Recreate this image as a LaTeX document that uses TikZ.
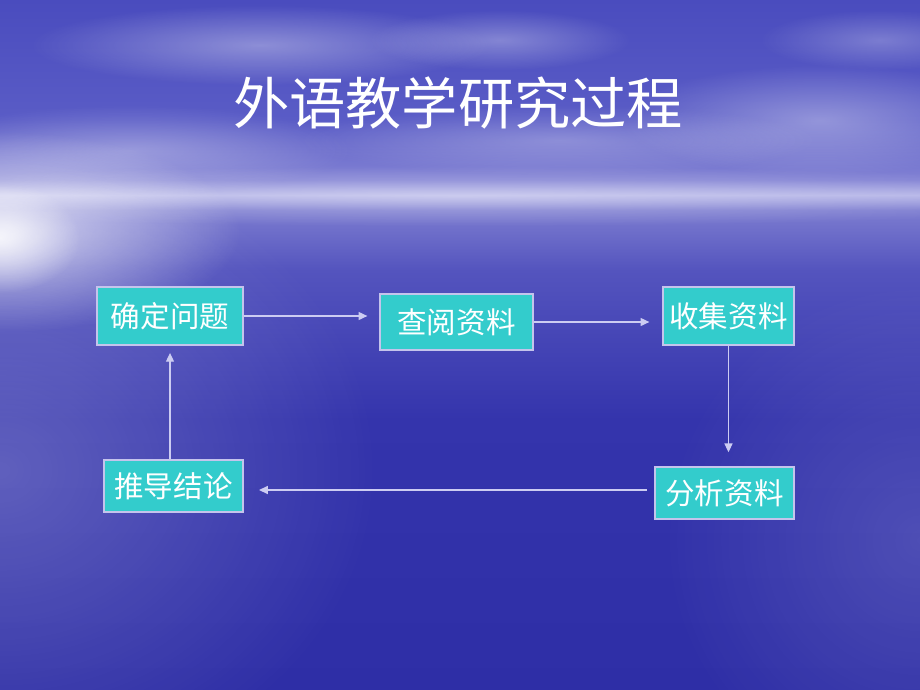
\documentclass[tikz,border=0pt]{standalone}
\usepackage{fontspec}
\newfontfamily\cjk{Noto Sans CJK SC}
\usetikzlibrary{arrows.meta,fadings}
\definecolor{boxfill}{HTML}{33CCCC}
\definecolor{boxline}{HTML}{C4C4EC}
\definecolor{flowline}{HTML}{CCCCF2}
\tikzfading[name=softglow,inner color=transparent!0,outer color=transparent!100]

\begin{document}
\begin{tikzpicture}[x=0.025cm,y=-0.025cm,
  stage/.style={draw=boxline,line width=1pt,fill=boxfill,text=white,
    font=\cjk\fontsize{21}{25}\selectfont,minimum height=1.45cm,inner sep=0pt},
  flow/.style={draw=flowline,line width=0.9pt,-{Triangle[length=2.2mm,width=2mm]}},
  glow/.style={white,path fading=softglow}]
\useasboundingbox (0,0) rectangle (920,690);
% sky and sea
\shade [top color={rgb,255:red,74;green,76;blue,190},bottom color={rgb,255:red,90;green,92;blue,198}] (0,0) rectangle (920,120);
\shade [top color={rgb,255:red,90;green,92;blue,198},bottom color={rgb,255:red,130;green,130;blue,212}] (0,120) rectangle (920,180);
\shade [top color={rgb,255:red,130;green,130;blue,212},bottom color={rgb,255:red,176;green,176;blue,230}] (0,180) rectangle (920,195);
\shade [top color={rgb,255:red,176;green,176;blue,230},bottom color={rgb,255:red,124;green,124;blue,208}] (0,195) rectangle (920,210);
\shade [top color={rgb,255:red,124;green,124;blue,208},bottom color={rgb,255:red,84;green,84;blue,190}] (0,210) rectangle (920,270);
\shade [top color={rgb,255:red,84;green,84;blue,190},bottom color={rgb,255:red,52;green,52;blue,172}] (0,270) rectangle (920,420);
\shade [top color={rgb,255:red,52;green,52;blue,172},bottom color={rgb,255:red,46;green,46;blue,166}] (0,420) rectangle (920,690);
% clouds
\begin{scope}
\clip (0,0) rectangle (920,200);
\fill [glow,opacity=0.35] (260,45) ellipse (230 and 40);
\fill [glow,opacity=0.30] (500,40) ellipse (130 and 30);
\fill [glow,opacity=0.30] (130,150) ellipse (220 and 45);
\fill [glow,opacity=0.35] (820,120) ellipse (200 and 55);
\fill [glow,opacity=0.25] (560,140) ellipse (260 and 35);
\fill [glow,opacity=0.25] (880,40) ellipse (120 and 30);
\end{scope}
% glare on the horizon
\fill [glow,opacity=0.35] (460,196) ellipse (720 and 30);
\fill [glow,opacity=0.7] (0,232) ellipse (240 and 100);
\fill [glow,opacity=0.8] (0,238) ellipse (80 and 55);
\fill [glow,opacity=0.22] (0,470) ellipse (380 and 320);
\fill [glow,opacity=0.14] (920,540) ellipse (260 and 260);
% title
\node (title) [text=white,font=\cjk\fontsize{40}{48}\selectfont] at (458,103) {外语教学研究过程};
% stages
\node (qd) [stage,minimum width=3.65cm] at (170,316) {确定问题};
\node (cy) [stage,minimum width=3.82cm,minimum height=1.4cm] at (456.5,322) {查阅资料};
\node (sj) [stage,minimum width=3.28cm] at (728.5,316) {收集资料};
\node (fx) [stage,minimum width=3.48cm,minimum height=1.3cm] at (724.5,493) {分析资料};
\node (tl) [stage,minimum width=3.48cm,minimum height=1.3cm] at (173.5,486) {推导结论};
% connectors
\draw [flow,shorten >=0.3cm] (qd.east) -- (qd.east -| cy.west);
\draw [flow,shorten >=0.32cm] (cy.east) -- (cy.east -| sj.west);
\draw [flow,shorten >=0.35cm] (sj.south) -- (sj.south |- fx.north);
\draw [flow,shorten <=0.18cm,shorten >=0.38cm] ([yshift=0.075cm]fx.west) -- ([yshift=0.075cm]fx.west -| tl.east);
\draw [flow,shorten >=0.18cm] (tl.north -| qd.south) -- (qd.south);
\end{tikzpicture}
\end{document}
